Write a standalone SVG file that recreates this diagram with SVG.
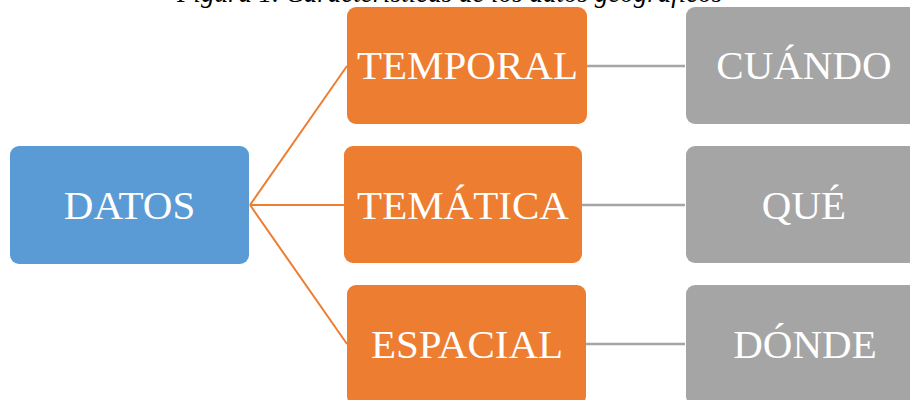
<svg xmlns="http://www.w3.org/2000/svg" width="910" height="400" viewBox="0 0 910 400">
  <style>
    .box { stroke: none; }
    .root { fill: #5B9BD5; }
    .attr { fill: #ED7D31; }
    .ans { fill: #A5A5A5; }
    .label { font-family: "Liberation Serif", "Times New Roman", serif; font-size: 41px; fill: #FFFFFF; text-anchor: middle; }
    .caption { font-family: "Liberation Serif", "Times New Roman", serif; font-size: 27px; font-style: italic; fill: #000000; }
    .branch { stroke: #ED7D31; stroke-width: 2; fill: none; }
    .link { stroke: #A5A5A5; stroke-width: 2.5; fill: none; }
  </style>
  <rect width="910" height="400" fill="#FFFFFF"/>

  <!-- figure caption, clipped by the top edge -->
  <text class="caption" x="177" y="1.5">Figura 1. Características de los datos geográficos</text>

  <!-- connectors -->
  <g id="connectors">
    <line class="branch" x1="250" y1="205" x2="347" y2="66"/>
    <line class="branch" x1="250" y1="205" x2="344" y2="205"/>
    <line class="branch" x1="250" y1="205" x2="347" y2="344"/>
    <line class="link" x1="587" y1="66" x2="685" y2="66"/>
    <line class="link" x1="582" y1="205" x2="685" y2="205"/>
    <line class="link" x1="586" y1="344" x2="685" y2="344"/>
  </g>

  <g id="datos">
    <rect class="box root" x="10" y="146" width="239" height="118" rx="9"/>
    <text class="label" x="129.5" y="219">DATOS</text>
  </g>

  <g id="temporal">
    <rect class="box attr" x="347" y="7" width="240" height="117" rx="9"/>
    <text class="label" x="467.5" y="79">TEMPORAL</text>
  </g>

  <g id="tematica">
    <rect class="box attr" x="344" y="146" width="238" height="117" rx="9"/>
    <text class="label" x="463" y="219">TEMÁTICA</text>
  </g>

  <g id="espacial">
    <rect class="box attr" x="347" y="285" width="239" height="120" rx="9"/>
    <text class="label" x="467" y="358">ESPACIAL</text>
  </g>

  <g id="cuando">
    <rect class="box ans" x="686" y="7" width="240" height="117" rx="9"/>
    <text class="label" x="804" y="79">CUÁNDO</text>
  </g>

  <g id="que">
    <rect class="box ans" x="686" y="146" width="240" height="117" rx="9"/>
    <text class="label" x="804" y="219">QUÉ</text>
  </g>

  <g id="donde">
    <rect class="box ans" x="686" y="285" width="240" height="120" rx="9"/>
    <text class="label" x="805" y="358">DÓNDE</text>
  </g>
</svg>
